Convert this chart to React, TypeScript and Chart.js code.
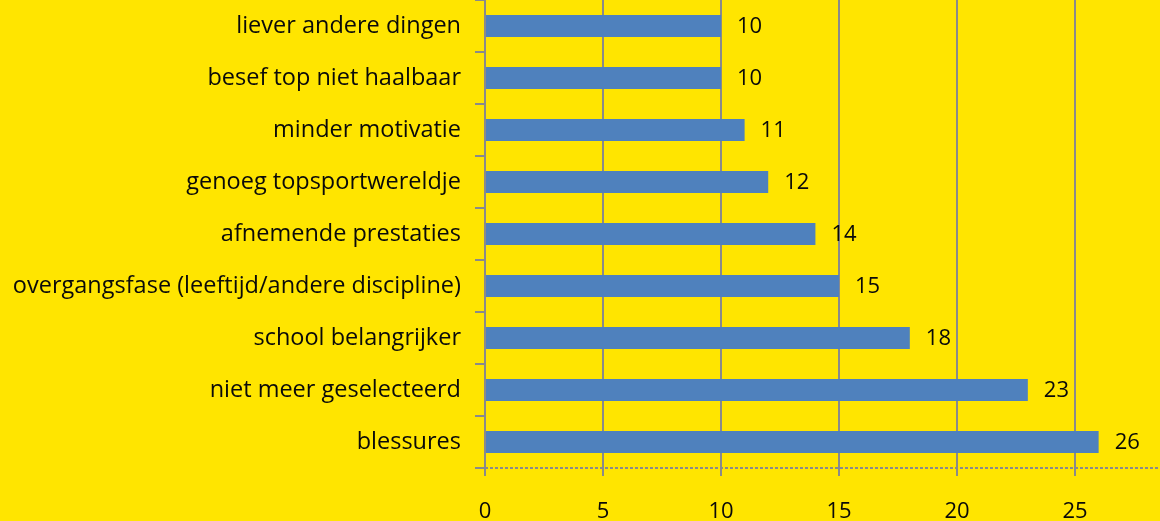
import React, { useEffect, useRef } from "react";
import { Chart, registerables } from "chart.js";

Chart.register(...registerables);

const categories = [
  "liever andere dingen",
  "besef top niet haalbaar",
  "minder motivatie",
  "genoeg topsportwereldje",
  "afnemende prestaties",
  "overgangsfase (leeftijd/andere discipline)",
  "school belangrijker",
  "niet meer geselecteerd",
  "blessures",
];
const values = [10, 10, 11, 12, 14, 15, 18, 23, 26];
const xTicks = [0, 5, 10, 15, 20, 25];

const BG = "#FFE500";
const BAR = "#4F81BD";
const GRID = "#8A8A8A";
const FONT = "'Open Sans', sans-serif";

const valueLabels = {
  id: "valueLabels",
  afterDatasetsDraw(chart: any) {
    const ctx = chart.ctx;
    const meta = chart.getDatasetMeta(0);
    ctx.save();
    ctx.fillStyle = "#0a0a0a";
    ctx.font = `22px ${FONT}`;
    ctx.textAlign = "left";
    ctx.textBaseline = "middle";
    meta.data.forEach((el: any, i: number) => {
      ctx.fillText(String(values[i]), el.x + 16, el.y + 1);
    });
    ctx.restore();
  },
};

const dottedBase = {
  id: "dottedBase",
  afterDraw(chart: any) {
    const { ctx, chartArea } = chart;
    ctx.save();
    ctx.strokeStyle = GRID;
    ctx.lineWidth = 2;
    ctx.setLineDash([3, 2]);
    ctx.beginPath();
    ctx.moveTo(chartArea.left, chartArea.bottom);
    ctx.lineTo(chart.width, chartArea.bottom);
    ctx.stroke();
    ctx.restore();
  },
};

export default function App() {
  const ref = useRef<HTMLCanvasElement>(null);
  useEffect(() => {
    if (!ref.current) return;
    const chart = new Chart(ref.current, {
      type: "bar",
      data: {
        labels: categories,
        datasets: [
          {
            data: values,
            backgroundColor: BAR,
            barPercentage: 0.85,
            categoryPercentage: 0.5,
          },
        ],
      },
      options: {
        indexAxis: "y",
        animation: false,
        responsive: false,
        maintainAspectRatio: false,
        layout: { padding: 0 },
        plugins: { legend: { display: false }, tooltip: { enabled: false } },
        scales: {
          x: {
            min: 0,
            max: 28.6,
            afterBuildTicks: (scale: any) => {
              scale.ticks = xTicks.map((v) => ({ value: v }));
            },
            afterFit: (scale: any) => {
              scale.height = 53;
              scale.paddingLeft = 0;
              scale.paddingRight = 0;
            },
            grid: {
              color: GRID,
              lineWidth: 2,
              tickLength: 8,
              tickColor: GRID,
            },
            border: { display: false },
            ticks: {
              color: "#0a0a0a",
              font: { family: FONT, size: 22 },
              padding: 23,
              maxRotation: 0,
            },
          },
          y: {
            afterFit: (scale: any) => {
              scale.width = 485;
              scale.paddingTop = 0;
              scale.paddingBottom = 0;
            },
            grid: {
              offset: true,
              drawOnChartArea: false,
              tickLength: 10,
              color: GRID,
              lineWidth: 2,
            },
            border: { display: true, color: GRID, width: 2 },
            ticks: {
              color: "#0a0a0a",
              font: { family: FONT, size: 23.5 },
              padding: 14,
              autoSkip: false,
            },
          },
        },
      },
      plugins: [valueLabels, dottedBase],
    });
    return () => chart.destroy();
  }, []);
  return (
    <div
      style={{
        position: "absolute",
        left: 0,
        top: 0,
        width: 1160,
        height: 521,
        background: BG,
        overflow: "hidden",
      }}
    >
      <canvas ref={ref} width={1160} height={521} style={{ display: "block" }} />
    </div>
  );
}
